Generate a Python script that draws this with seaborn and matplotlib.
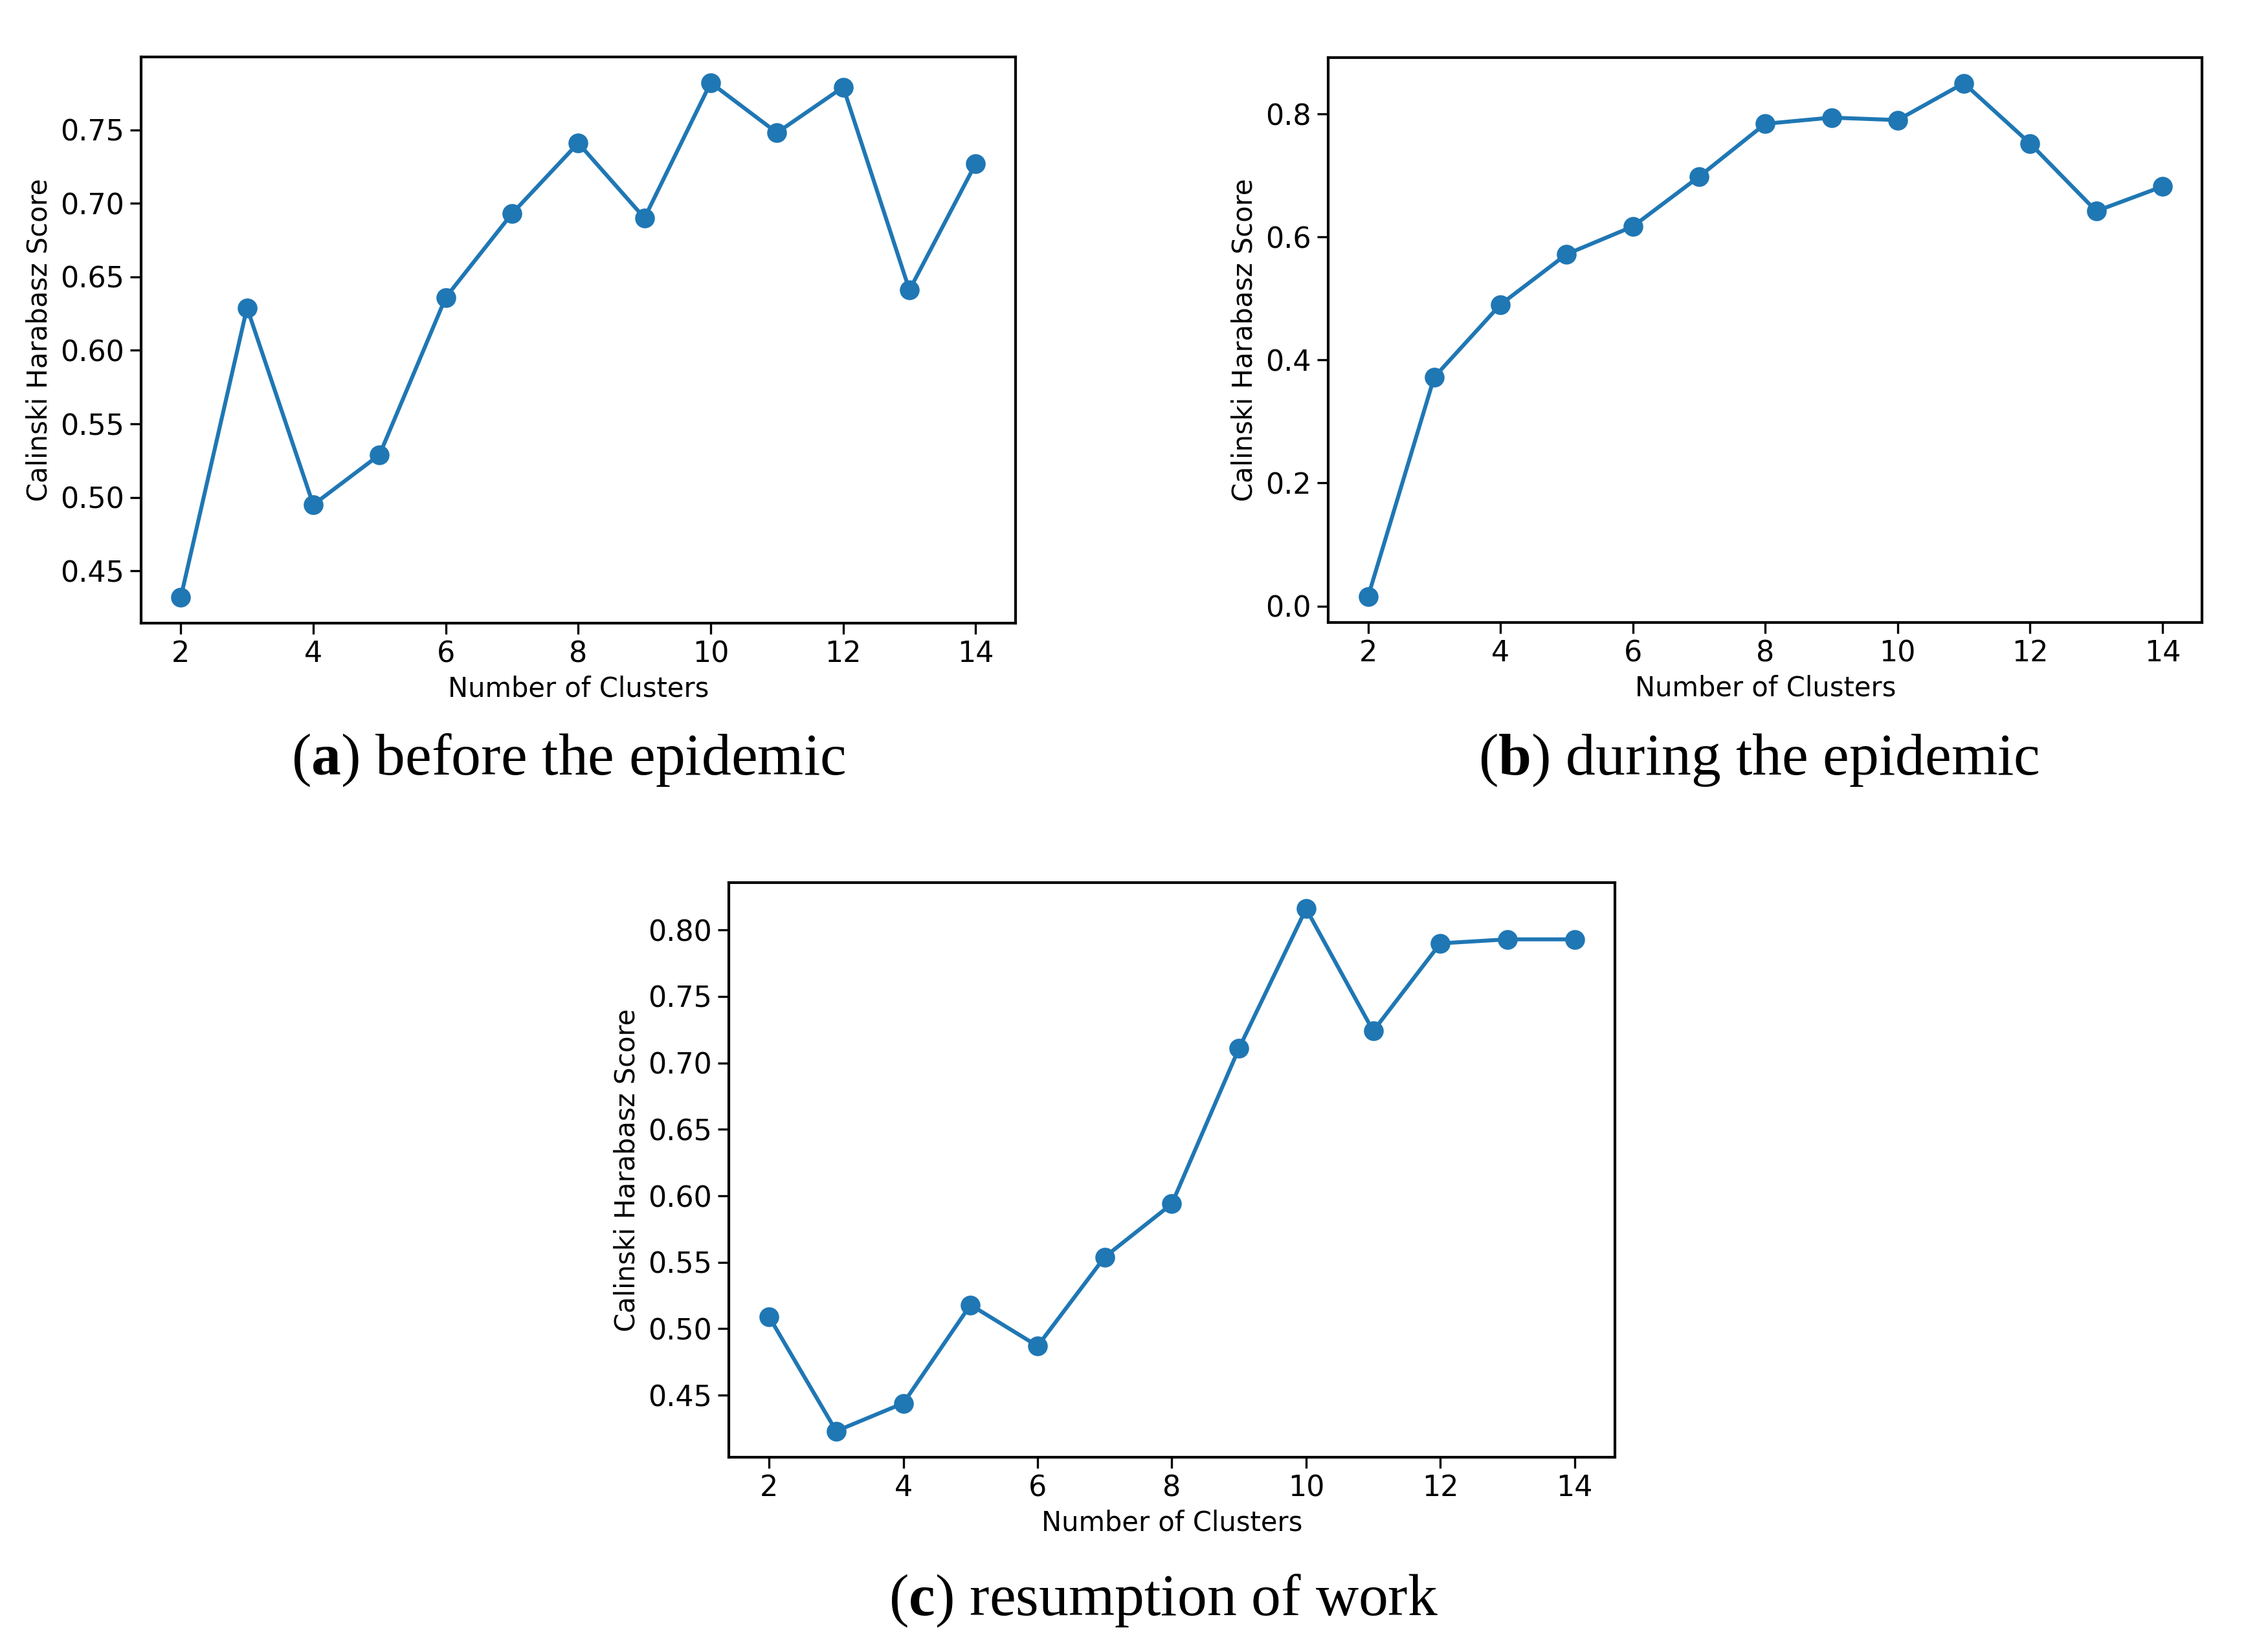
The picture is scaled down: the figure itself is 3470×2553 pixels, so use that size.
import matplotlib
matplotlib.use('Agg')
import matplotlib.pyplot as plt
import pandas as pd
import seaborn as sns

# Number of clusters tested
clusters = list(range(2, 15))

# Calinski Harabasz score per period
score_before = [0.432, 0.629, 0.495, 0.529, 0.636, 0.693, 0.741, 0.690, 0.782, 0.748, 0.779, 0.641, 0.727]
score_during = [0.015, 0.372, 0.490, 0.572, 0.617, 0.698, 0.784, 0.794, 0.790, 0.850, 0.752, 0.642, 0.682]
score_resume = [0.509, 0.423, 0.444, 0.518, 0.487, 0.554, 0.594, 0.711, 0.816, 0.724, 0.790, 0.793, 0.793]

captions = ["a", "b", "c"]
caption_texts = ["before the epidemic", "during the epidemic", "resumption of work"]
x_ticks = [2, 4, 6, 8, 10, 12, 14]

sns.set_style("ticks")
plt.rcParams['font.family'] = ['DejaVu Sans']
plt.rcParams['text.color'] = 'black'
plt.rcParams['axes.labelcolor'] = 'black'
plt.rcParams['xtick.color'] = 'black'
plt.rcParams['ytick.color'] = 'black'
plt.rcParams['mathtext.fontset'] = 'custom'
plt.rcParams['mathtext.rm'] = 'Liberation Serif'
plt.rcParams['mathtext.bf'] = 'Liberation Serif:bold'

fig = plt.figure(figsize=(17.35, 12.765), dpi=200)

# axes boxes [left, bottom, width, height] in figure fractions
boxes = [
    [0.0628, 0.6228, 0.3893, 0.3427],
    [0.5914, 0.6232, 0.3891, 0.3420],
    [0.3245, 0.1179, 0.3945, 0.3478],
]
caption_pos = [(0.253, 0.540), (0.783, 0.540), (0.518, 0.031)]

for box, scores, cap, cap_txt, cpos in zip(boxes, [score_before, score_during, score_resume],
                                           captions, caption_texts, caption_pos):
    ax = fig.add_axes(box)
    df = pd.DataFrame({"clusters": clusters, "score": scores})
    sns.lineplot(data=df, x="clusters", y="score", marker="o", markersize=11,
                 markeredgewidth=0, color="#1f77b4", linewidth=2.2, ax=ax)
    ax.set_xticks(x_ticks)
    ax.set_xlabel("Number of Clusters", fontsize=15)
    ax.set_ylabel("Calinski Harabasz Score", fontsize=15)
    ax.tick_params(labelsize=16, width=1.2, length=6, color="black")
    for spine in ax.spines.values():
        spine.set_visible(True)
        spine.set_color("black")
        spine.set_linewidth(1.5)
    fig.text(cpos[0], cpos[1], r"($\mathbf{" + cap + r"}$) " + cap_txt,
             ha="center", va="center", fontsize=33, family="Liberation Serif",
             color="black")

fig.savefig("out.png", dpi=200, facecolor="white")
